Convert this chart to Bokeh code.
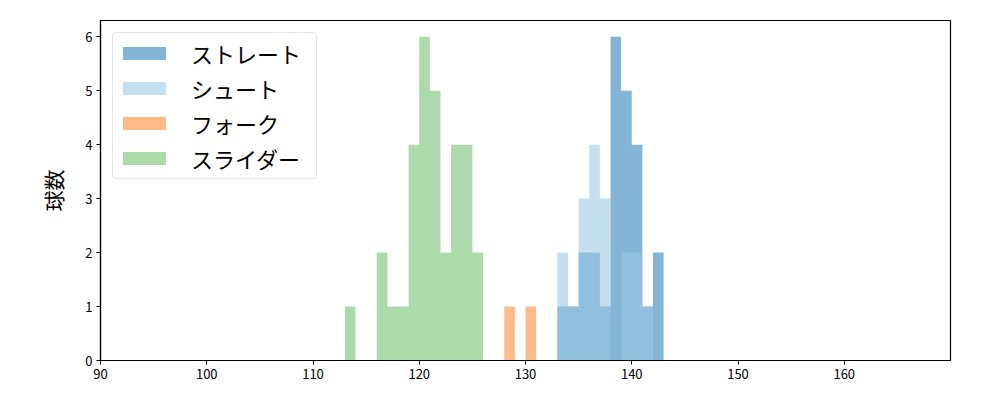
from bokeh.plotting import figure
from bokeh.models import Range1d, FixedTicker, Legend, LegendItem
from bokeh.embed import file_html
from bokeh.resources import INLINE

# Histogram data (bin left edges, counts); bin width 1
straight_bins = [133, 134, 135, 136, 137, 138, 139, 140, 141, 142]
straight_counts = [1, 1, 2, 2, 1, 6, 5, 4, 1, 2]
shoot_bins = [133, 134, 135, 136, 137, 138, 139, 140, 141]
shoot_counts = [2, 1, 3, 4, 3, 0, 2, 2, 1]
fork_bins = [128, 129, 130]
fork_counts = [1, 0, 1]
slider_bins = [113, 114, 115, 116, 117, 118, 119, 120, 121, 122, 123, 124, 125]
slider_counts = [1, 0, 0, 2, 1, 1, 4, 6, 5, 2, 4, 4, 2]
labels = ["ストレート", "シュート", "フォーク", "スライダー"]
x_ticks = [90, 100, 110, 120, 130, 140, 150, 160]
y_ticks = [0, 1, 2, 3, 4, 5, 6]
BIN_W = 1.0

FONT = "Noto Sans CJK JP"

p = figure(width=1000, height=400, output_backend="svg", toolbar_location=None,
           x_range=Range1d(90, 170), y_range=Range1d(0, 6.3),
           min_border_left=100, min_border_right=50, min_border_top=20, min_border_bottom=40)
p.xgrid.visible = False
p.ygrid.visible = False
p.outline_line_color = "black"
p.outline_line_width = 1.2
p.outline_line_alpha = 1.0


def step_outline(bins, counts):
    xs, ys = [bins[0]], [0]
    for b, c in zip(bins, counts):
        xs += [b, b + BIN_W]
        ys += [c, c]
    xs.append(bins[-1] + BIN_W)
    ys.append(0)
    return xs, ys


x1, y1 = step_outline(straight_bins, straight_counts)
r1 = p.patch(x1, y1, fill_color="#1f78b4", fill_alpha=0.55, line_color=None)
x2, y2 = step_outline(shoot_bins, shoot_counts)
r2 = p.patch(x2, y2, fill_color="#99c8e2", fill_alpha=0.58, line_color=None)
x3, y3 = step_outline(fork_bins, fork_counts)
r3 = p.patch(x3, y3, fill_color="#fdbb8a", fill_alpha=1.0, line_color=None)
x4, y4 = step_outline(slider_bins, slider_counts)
r4 = p.patch(x4, y4, fill_color="#acdaab", fill_alpha=1.0, line_color=None)

for ax in (p.xaxis[0], p.yaxis[0]):
    ax.axis_line_color = "black"
    ax.axis_line_width = 1.2
    ax.major_tick_line_color = "black"
    ax.major_tick_in = 0
    ax.major_tick_out = 4
    ax.minor_tick_line_color = None
    ax.major_label_text_font = FONT
    ax.major_label_text_font_size = "13px"
    ax.major_label_text_color = "black"
    ax.major_label_standoff = 4

p.xaxis.ticker = FixedTicker(ticks=x_ticks)
p.yaxis.ticker = FixedTicker(ticks=y_ticks)
p.yaxis.axis_label = "球数"
p.yaxis.axis_label_text_font = FONT
p.yaxis.axis_label_text_font_size = "21px"
p.yaxis.axis_label_text_font_style = "normal"
p.yaxis.axis_label_text_color = "black"
p.yaxis.axis_label_standoff = 14

legend = Legend(items=[LegendItem(label=labels[0], renderers=[r1]),
                       LegendItem(label=labels[1], renderers=[r2]),
                       LegendItem(label=labels[2], renderers=[r3]),
                       LegendItem(label=labels[3], renderers=[r4])],
                location="top_left")
legend.label_text_font = FONT
legend.label_text_font_size = "22px"
legend.label_text_color = "black"
legend.glyph_width = 54
legend.glyph_height = 16
legend.label_standoff = 20
legend.label_width = 121
legend.label_height = 20
legend.spacing = 3
legend.padding = 4
legend.margin = 12
legend.border_line_color = "#cccccc"
legend.border_line_width = 1
legend.border_radius = 4
legend.background_fill_alpha = 0.8
p.add_layout(legend)

open("out.html", "w").write(file_html(p, INLINE))
